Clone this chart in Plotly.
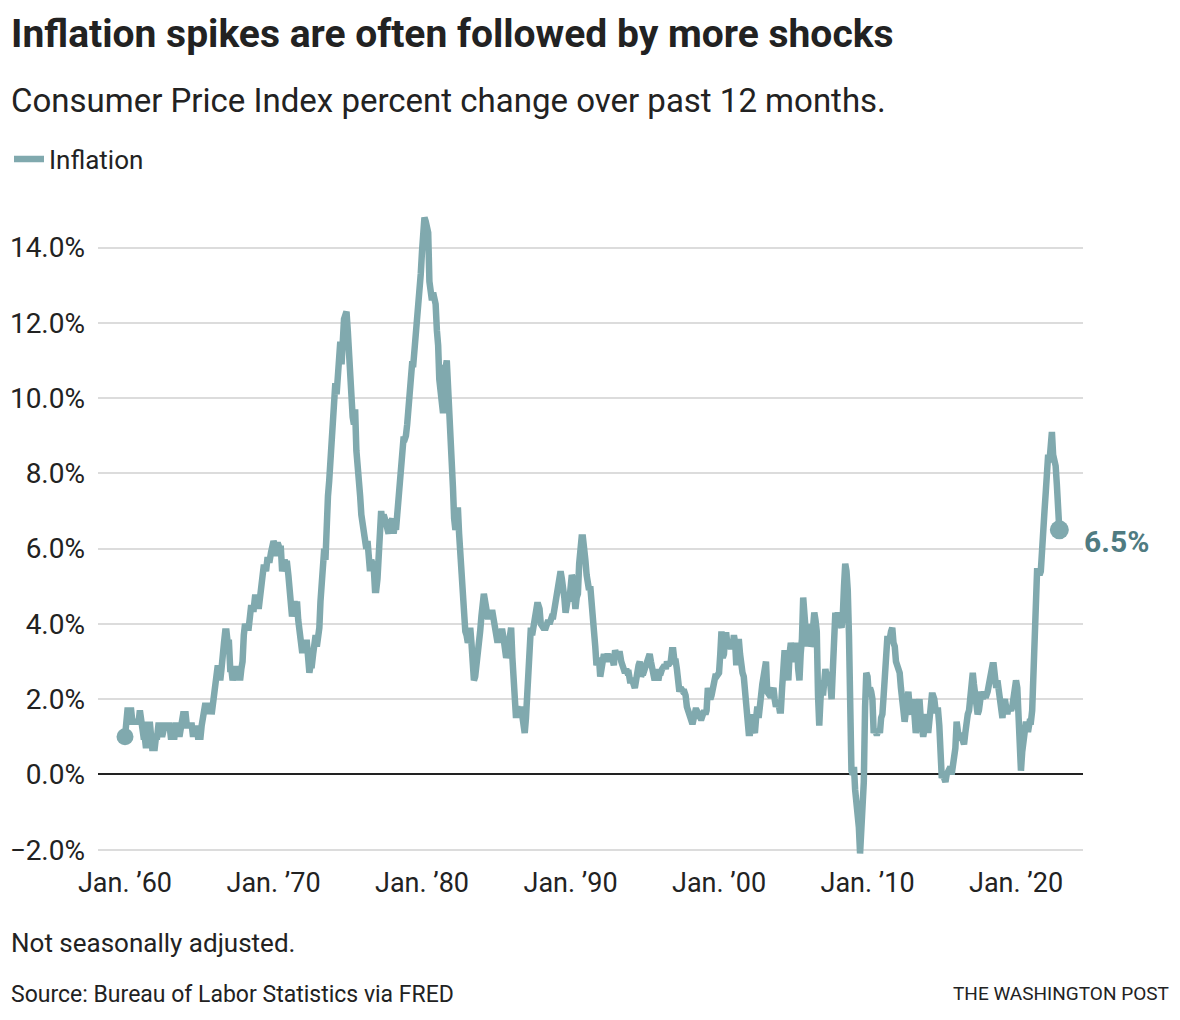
import pandas as pd
import plotly.graph_objects as go

# Monthly CPI-U 12-month percent change, Jan 1960 - Dec 2022 (one list per year)
y1960s = [
    [1.0, 1.7, 1.7, 1.7, 1.7, 1.7, 1.4, 1.4, 1.4, 1.4, 1.4, 1.4],
    [1.7, 1.4, 1.4, 1.0, 1.0, 0.7, 1.4, 1.0, 1.4, 0.7, 0.7, 0.7],
    [0.7, 1.0, 1.0, 1.3, 1.3, 1.3, 1.0, 1.3, 1.3, 1.3, 1.3, 1.3],
    [1.3, 1.0, 1.0, 1.0, 1.0, 1.3, 1.3, 1.3, 1.0, 1.3, 1.3, 1.6],
    [1.6, 1.6, 1.3, 1.3, 1.3, 1.3, 1.3, 1.0, 1.3, 1.0, 1.3, 1.0],
    [1.0, 1.0, 1.3, 1.6, 1.6, 1.9, 1.6, 1.9, 1.6, 1.9, 1.6, 1.9],
    [1.9, 2.5, 2.5, 2.9, 2.8, 2.5, 2.8, 3.5, 3.5, 3.8, 3.8, 3.5],
    [3.5, 2.8, 2.8, 2.5, 2.8, 2.8, 2.8, 2.5, 2.8, 2.5, 2.8, 3.0],
    [3.7, 4.0, 3.9, 3.9, 3.9, 4.2, 4.5, 4.4, 4.4, 4.7, 4.7, 4.7],
    [4.4, 4.7, 5.2, 5.5, 5.5, 5.5, 5.4, 5.7, 5.7, 5.7, 5.9, 6.2],
]
y1970s = [
    [6.2, 6.1, 5.8, 6.1, 6.1, 6.0, 6.0, 5.4, 5.7, 5.7, 5.6, 5.6],
    [5.3, 5.0, 4.7, 4.2, 4.4, 4.6, 4.4, 4.6, 4.1, 3.8, 3.3, 3.3],
    [3.3, 3.5, 3.5, 3.5, 3.2, 2.7, 2.9, 2.9, 3.2, 3.4, 3.7, 3.4],
    [3.6, 3.9, 4.6, 5.1, 5.5, 6.0, 5.7, 7.4, 7.4, 7.8, 8.3, 8.7],
    [9.4, 10.0, 10.4, 10.1, 10.7, 10.9, 11.5, 10.9, 11.9, 12.1, 12.2, 12.3],
    [11.8, 11.2, 10.3, 10.2, 9.5, 9.3, 9.7, 8.6, 7.9, 7.4, 7.4, 6.9],
    [6.7, 6.3, 6.1, 6.0, 6.2, 5.9, 5.4, 5.7, 5.5, 5.5, 4.9, 4.9],
    [5.2, 5.9, 6.4, 7.0, 6.7, 6.9, 6.8, 6.6, 6.6, 6.4, 6.7, 6.7],
    [6.8, 6.4, 6.6, 6.5, 6.9, 7.4, 7.7, 7.8, 8.3, 8.9, 8.9, 9.0],
    [9.3, 9.9, 10.1, 10.5, 10.9, 10.9, 11.3, 11.8, 12.2, 12.1, 12.6, 13.3],
]
y1980s = [
    [13.9, 14.2, 14.8, 14.7, 14.4, 14.4, 13.1, 12.9, 12.6, 12.8, 12.6, 12.5],
    [11.8, 11.4, 10.5, 10.0, 9.8, 9.6, 10.8, 10.8, 11.0, 10.1, 9.6, 8.9],
    [8.4, 7.6, 6.8, 6.5, 6.7, 7.1, 6.4, 5.9, 5.0, 5.1, 4.6, 3.8],
    [3.7, 3.5, 3.6, 3.9, 3.5, 2.6, 2.5, 2.6, 2.9, 2.9, 3.3, 3.8],
    [4.2, 4.6, 4.8, 4.6, 4.2, 4.2, 4.2, 4.3, 4.3, 4.3, 4.1, 3.9],
    [3.5, 3.5, 3.7, 3.7, 3.8, 3.8, 3.6, 3.3, 3.1, 3.2, 3.5, 3.8],
    [3.9, 3.1, 2.2, 1.6, 1.5, 1.8, 1.6, 1.6, 1.8, 1.5, 1.3, 1.1],
    [1.5, 2.1, 3.0, 3.8, 3.9, 3.7, 3.9, 4.3, 4.4, 4.5, 4.5, 4.4],
    [4.0, 3.9, 3.9, 3.9, 3.9, 4.0, 4.1, 4.0, 4.2, 4.2, 4.2, 4.4],
    [4.7, 4.8, 5.0, 5.1, 5.4, 5.2, 5.0, 4.7, 4.3, 4.5, 4.7, 4.6],
]
y1990s = [
    [5.2, 5.3, 5.2, 4.7, 4.4, 4.7, 4.8, 5.6, 6.2, 6.3, 6.3, 6.1],
    [5.7, 5.3, 4.9, 4.9, 5.0, 4.7, 4.4, 3.8, 3.4, 2.9, 3.0, 3.1],
    [2.6, 2.8, 3.2, 3.2, 3.0, 3.1, 3.2, 3.1, 3.0, 3.2, 3.0, 2.9],
    [3.3, 3.2, 3.1, 3.2, 3.2, 3.0, 2.8, 2.8, 2.7, 2.8, 2.7, 2.7],
    [2.5, 2.5, 2.5, 2.4, 2.3, 2.5, 2.8, 2.9, 3.0, 2.6, 2.7, 2.7],
    [2.8, 2.9, 2.9, 3.1, 3.2, 3.0, 2.8, 2.6, 2.5, 2.8, 2.6, 2.5],
    [2.7, 2.7, 2.8, 2.9, 2.9, 2.8, 3.0, 2.9, 3.0, 3.0, 3.3, 3.3],
    [3.0, 3.0, 2.8, 2.5, 2.2, 2.3, 2.2, 2.2, 2.2, 2.1, 1.8, 1.7],
    [1.6, 1.4, 1.4, 1.4, 1.7, 1.7, 1.7, 1.6, 1.5, 1.5, 1.5, 1.6],
    [1.7, 1.6, 1.7, 2.3, 2.1, 2.0, 2.1, 2.3, 2.6, 2.6, 2.6, 2.7],
]
y2000s = [
    [2.7, 3.2, 3.8, 3.1, 3.2, 3.7, 3.7, 3.4, 3.5, 3.4, 3.4, 3.4],
    [3.7, 3.5, 2.9, 3.3, 3.6, 3.2, 2.7, 2.7, 2.6, 2.1, 1.9, 1.6],
    [1.1, 1.1, 1.5, 1.6, 1.2, 1.1, 1.5, 1.8, 1.5, 2.0, 2.2, 2.4],
    [2.6, 3.0, 3.0, 2.2, 2.1, 2.1, 2.1, 2.2, 2.3, 2.0, 1.8, 1.9],
    [1.9, 1.7, 1.7, 2.3, 3.1, 3.3, 3.0, 2.7, 2.5, 3.2, 3.5, 3.3],
    [3.0, 3.0, 3.1, 3.5, 2.8, 2.5, 3.2, 3.6, 4.7, 4.3, 3.5, 3.4],
    [4.0, 3.6, 3.4, 3.5, 4.2, 4.3, 4.1, 3.8, 2.1, 1.3, 2.0, 2.5],
    [2.1, 2.4, 2.8, 2.6, 2.7, 2.7, 2.4, 2.0, 2.8, 3.5, 4.3, 4.1],
    [4.3, 4.0, 4.0, 3.9, 4.2, 5.0, 5.6, 5.4, 4.9, 3.7, 1.1, 0.1],
    [0.0, 0.2, -0.4, -0.7, -1.3, -1.4, -2.1, -1.5, -1.3, -0.2, 1.8, 2.7],
]
y2010s = [
    [2.6, 2.1, 2.3, 2.2, 2.0, 1.1, 1.2, 1.1, 1.1, 1.2, 1.1, 1.5],
    [1.6, 2.1, 2.7, 3.2, 3.6, 3.6, 3.6, 3.8, 3.9, 3.5, 3.4, 3.0],
    [2.9, 2.9, 2.7, 2.3, 1.7, 1.7, 1.4, 1.7, 2.0, 2.2, 1.8, 1.7],
    [1.6, 2.0, 1.5, 1.1, 1.4, 1.8, 2.0, 1.5, 1.2, 1.0, 1.2, 1.5],
    [1.6, 1.1, 1.5, 2.0, 2.1, 2.1, 2.0, 1.7, 1.7, 1.7, 1.3, 0.8],
    [-0.1, 0.0, -0.1, -0.2, 0.0, 0.1, 0.2, 0.2, 0.0, 0.2, 0.5, 0.7],
    [1.4, 1.0, 0.9, 1.1, 1.0, 1.0, 0.8, 1.1, 1.5, 1.6, 1.7, 2.1],
    [2.5, 2.7, 2.4, 2.2, 1.9, 1.6, 1.7, 1.9, 2.2, 2.0, 2.2, 2.1],
    [2.1, 2.2, 2.4, 2.5, 2.8, 2.9, 2.9, 2.7, 2.3, 2.5, 2.2, 1.9],
    [1.6, 1.5, 1.9, 2.0, 1.8, 1.6, 1.8, 1.7, 1.7, 1.8, 2.1, 2.3],
]
y2020s = [
    [2.5, 2.3, 1.5, 0.3, 0.1, 0.6, 1.0, 1.3, 1.4, 1.2, 1.2, 1.4],
    [1.4, 1.7, 2.6, 4.2, 5.0, 5.4, 5.4, 5.3, 5.4, 6.2, 6.8, 7.0],
    [7.5, 7.9, 8.5, 8.3, 8.6, 9.1, 8.5, 8.3, 8.2, 7.7, 7.1, 6.5],
]

tick_years = [1960, 1970, 1980, 1990, 2000, 2010, 2020]
tick_labels = ["Jan. \u201960", "Jan. \u201970", "Jan. \u201980", "Jan. \u201990",
               "Jan. \u201900", "Jan. \u201910", "Jan. \u201920"]
y_ticks = [-2, 0, 2, 4, 6, 8, 10, 12, 14]
y_tick_labels = ["\u22122.0%", "0.0%", "2.0%", "4.0%", "6.0%", "8.0%", "10.0%", "12.0%", "14.0%"]

values = [v for dec in (y1960s, y1970s, y1980s, y1990s, y2000s, y2010s, y2020s)
          for yr in dec for v in yr]
dates = pd.date_range("1960-01-01", periods=len(values), freq="MS")

LINE = "#80a9ae"
LABEL = "#4f7b81"
TXT = "#222222"
FONT = "Roboto, Arial, sans-serif"

W, H = 1180, 1020
OFF = 8  # page offset of the figure inside the browser page
# plot area in page pixels
P_L, P_R, P_T, P_B = 98, 1083, 210, 861
ML, MR = P_L - OFF, W - (P_R - OFF)
MT, MB = P_T - OFF, H - (P_B - OFF)
PW, PH = W - ML - MR, H - MT - MB


def px(xp):
    return (xp - OFF - ML) / PW


def py(yp):
    return (H - MB - (yp - OFF)) / PH


fig = go.Figure()
fig.add_trace(go.Scatter(
    x=dates, y=values, mode="lines", name="Inflation",
    line=dict(color=LINE, width=6.5, shape="linear"),
    hovertemplate="%{x|%b %Y}: %{y:.1f}%<extra></extra>",
))
fig.add_trace(go.Scatter(
    x=[dates[0], dates[-1]], y=[values[0], values[-1]], mode="markers",
    marker=dict(color=LINE, size=[17, 19], opacity=1, line=dict(width=0)),
    showlegend=False, hoverinfo="skip",
))

fig.add_annotation(x=dates[-1], y=values[-1], xref="x", yref="y",
                   text="<b>%.1f%%</b>" % values[-1], showarrow=False,
                   xanchor="left", yanchor="middle", xshift=23, yshift=-12,
                   font=dict(family=FONT, size=30, color=LABEL))

# Titles and notes
fig.add_annotation(x=px(9), y=py(33.5), xref="paper", yref="paper",
                   text="<b>Inflation spikes are often followed by more shocks</b>",
                   showarrow=False, xanchor="left", yanchor="middle",
                   font=dict(family=FONT, size=39, color=TXT))
fig.add_annotation(x=px(9), y=py(100), xref="paper", yref="paper",
                   text="Consumer Price Index percent change over past 12 months.",
                   showarrow=False, xanchor="left", yanchor="middle",
                   font=dict(family=FONT, size=33, color=TXT))
fig.add_annotation(x=px(9), y=py(943), xref="paper", yref="paper",
                   text="Not seasonally adjusted.", showarrow=False,
                   xanchor="left", yanchor="middle",
                   font=dict(family=FONT, size=26, color=TXT))
fig.add_annotation(x=px(9), y=py(994), xref="paper", yref="paper",
                   text="Source: Bureau of Labor Statistics via FRED", showarrow=False,
                   xanchor="left", yanchor="middle",
                   font=dict(family=FONT, size=23, color=TXT))
fig.add_annotation(x=px(1171), y=py(993), xref="paper", yref="paper",
                   text="THE WASHINGTON POST", showarrow=False,
                   xanchor="right", yanchor="middle",
                   font=dict(family=FONT, size=19, color=TXT))

fig.update_layout(
    width=W, height=H,
    margin=dict(l=ML, r=MR, t=MT, b=MB, pad=0, autoexpand=False),
    paper_bgcolor="white", plot_bgcolor="white",
    font=dict(family=FONT, color=TXT),
    showlegend=True,
    legend=dict(xref="container", yref="container",
                x=1.0 / W, y=(H - (159 - OFF)) / H,
                xanchor="left", yanchor="middle",
                orientation="h", font=dict(family=FONT, size=26, color=TXT),
                itemwidth=30, bgcolor="rgba(0,0,0,0)"),
    xaxis=dict(
        type="date",
        range=["1958-03-08", "2024-07-05"],
        tickmode="array",
        tickvals=[pd.Timestamp(year=y, month=1, day=1) for y in tick_years],
        ticktext=tick_labels,
        showgrid=False, zeroline=False, showline=False,
        ticks="", tickfont=dict(family=FONT, size=27, color=TXT),
        ticklabelstandoff=3,
    ),
    yaxis=dict(
        range=[-2.3, 15],
        tickmode="array", tickvals=y_ticks, ticktext=y_tick_labels,
        showgrid=True, gridcolor="#dcdcdc", gridwidth=2,
        zeroline=True, zerolinecolor="#222222", zerolinewidth=2,
        showline=False, ticks="",
        tickfont=dict(family=FONT, size=28, color=TXT),
        ticklabelstandoff=12,
    ),
)

fig.write_html("out.html")
